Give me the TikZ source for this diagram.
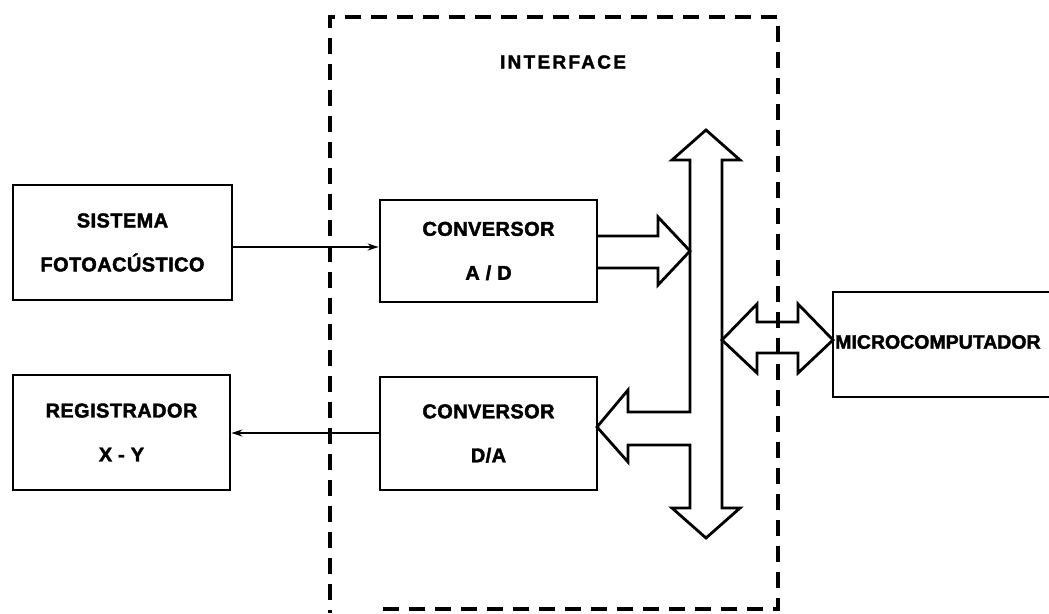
\documentclass[tikz,border=0pt]{standalone}
\usepackage{fontspec}
\setmainfont{Liberation Sans}
\usetikzlibrary{arrows.meta}
\newcommand\lbltext{\fontsize{20}{44}\selectfont\bfseries\addfontfeature{LetterSpace=2,FakeBold=2}}
\begin{document}
\begin{tikzpicture}[x=1pt,y=-1pt,
  box/.style={draw,line width=2.8pt,align=center,font=\lbltext,inner sep=0pt},
  blockarrow/.style={draw,line width=2.8pt,line join=miter},
  conn/.style={line width=1.8pt,-{Stealth[length=11pt,width=7pt]}},
  dashbox/.style={line width=3.2pt,dash pattern=on 16pt off 10pt}]
\useasboundingbox (0,0) rectangle (1049,613);
% interface frame
\draw[dashbox] (383,609) -- (778,609) -- (778,17) -- (330,17) -- (330,613);
\node[font=\fontsize{19}{23}\selectfont\bfseries\addfontfeature{LetterSpace=12,FakeBold=2}] (iface) at (563,62) {INTERFACE};
% boxes
\node[box,minimum width=219pt,minimum height=115pt] (sis) at (122.5,242.5) {SISTEMA\\FOTOACÚSTICO};
\node[box,minimum width=217pt,minimum height=115pt] (reg) at (121.5,432.5) {REGISTRADOR\\X - Y};
\node[box,minimum width=217pt,minimum height=102pt] (ad) at (488.5,251) {CONVERSOR\\A / D};
\node[box,minimum width=217pt,minimum height=113pt] (da) at (488.5,433.5) {CONVERSOR\\D/A};
\node[anchor=west,font=\fontsize{19.5}{23}\selectfont\bfseries\addfontfeature{FakeBold=2},inner sep=0pt] (micro) at (835,342) {MICROCOMPUTADOR};
\draw[line width=2.8pt] (1052,292) -- (833,292) -- (833,397) -- (1052,397);
% connectors
\draw[conn] (sis.east |- 0,247) -- (ad.west |- 0,247);
\draw[conn] (da.west |- 0,433) -- (reg.east |- 0,433);
% bus with D/A branch
\draw[blockarrow] (690,160) -- (672,160) -- (706,130) -- (740,160) -- (722,160)
  -- (722,508) -- (740,508) -- (706,538) -- (672,508) -- (690,508)
  -- (690,445) -- (628,445) -- (628,462) -- (597,427) -- (628,390) -- (628,412)
  -- (690,412) -- cycle;
% A/D arrow into bus
\draw[blockarrow] (597,236) -- (658,236) -- (658,217) -- (690,251) -- (658,285) -- (658,268) -- (597,268);
% bus <-> microcomputer
\draw[blockarrow] (722,340) -- (757,304) -- (757,322) -- (798,322) -- (798,304) -- (833,340)
  -- (798,373) -- (798,353) -- (757,353) -- (757,373) -- cycle;
\end{tikzpicture}
\end{document}
